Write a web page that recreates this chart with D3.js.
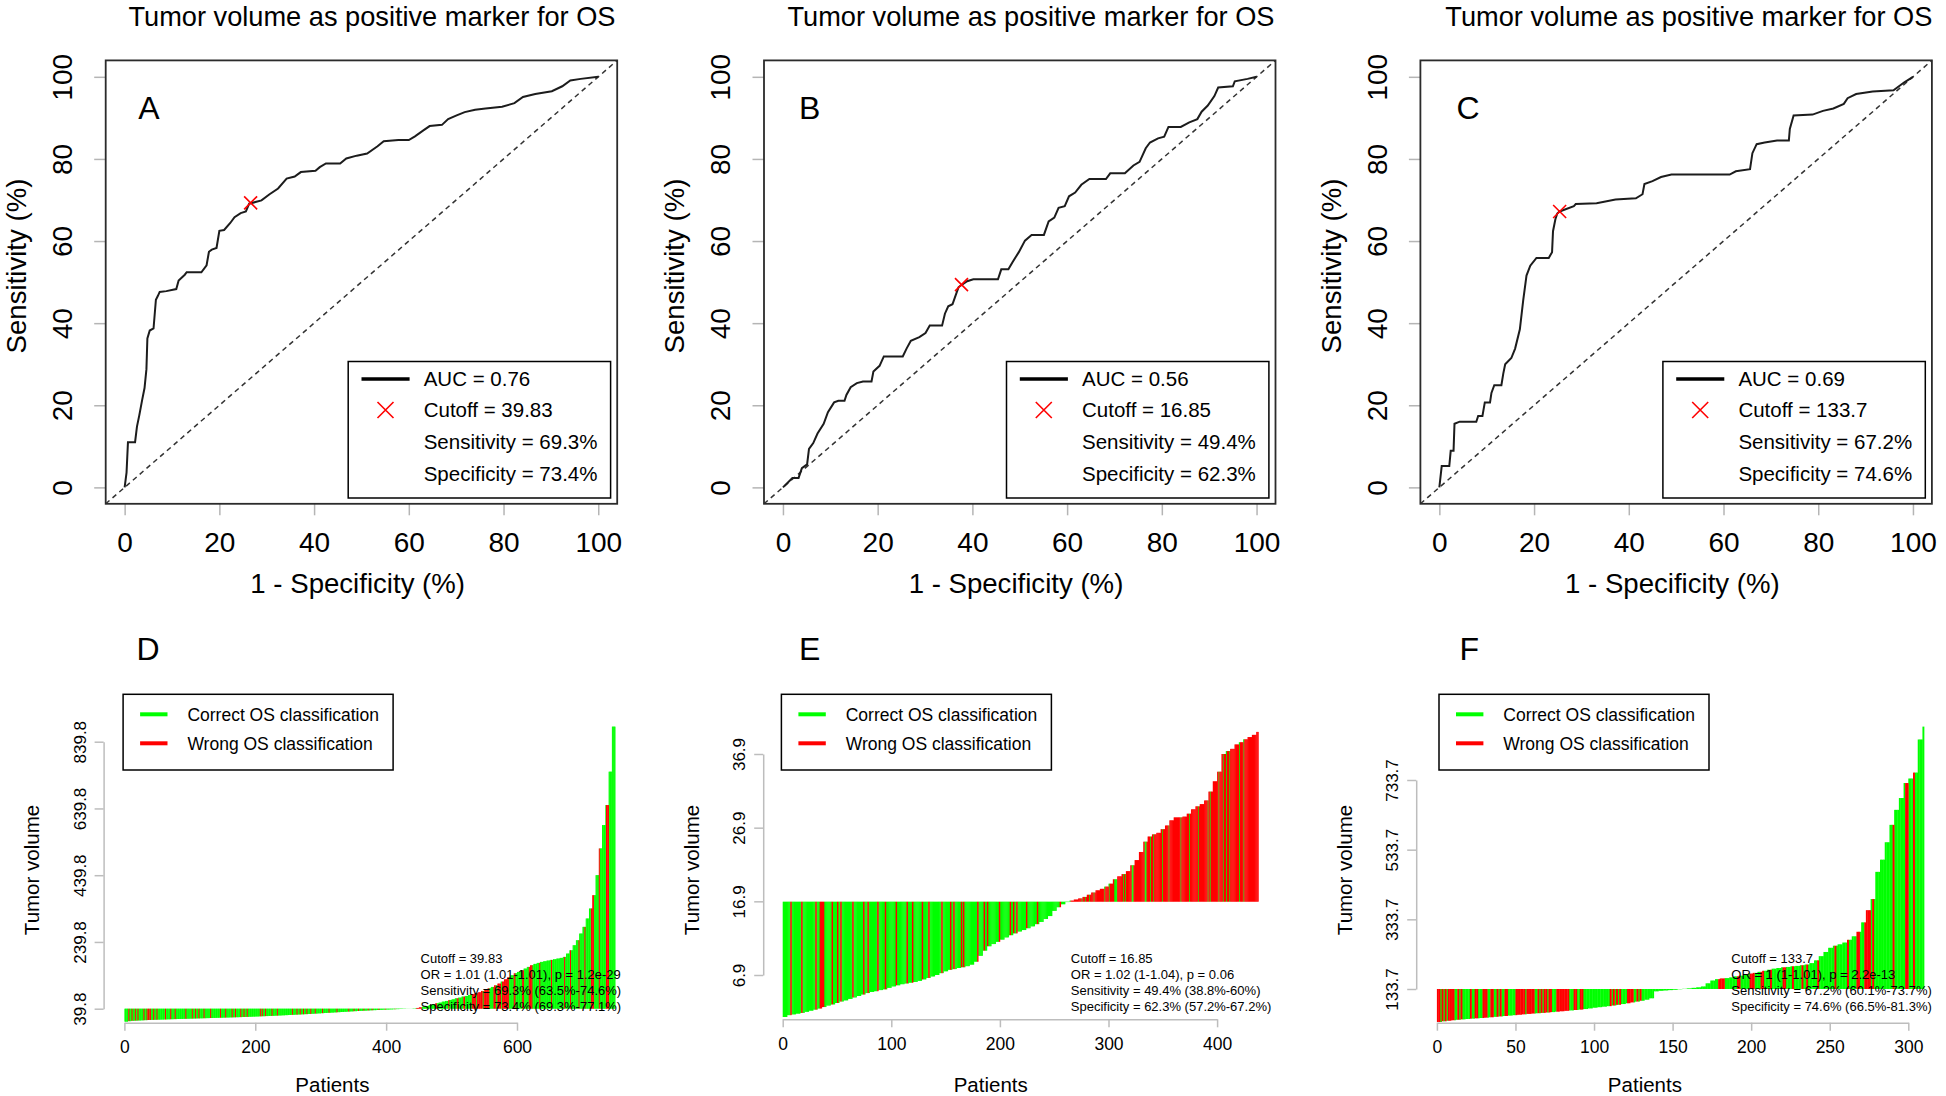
<!DOCTYPE html>
<html><head><meta charset="utf-8">
<script src="https://cdn.jsdelivr.net/npm/d3@7"></script>
<style>
body{margin:0;background:#fff;}
svg text{font-family:"Liberation Sans",Arial,Helvetica,sans-serif;fill:#000;}
</style>
</head><body>
<svg id="c" width="1946" height="1096"></svg>
<script>
// ---------------- DATA ----------------
const rocTitle = "Tumor volume as positive marker for OS";
const rocTicks = [0, 20, 40, 60, 80, 100];
const rocLetters = ["A", "B", "C"];
// [1 - specificity %, sensitivity %]
const rocA = [[0,0],[0.4,3.6],[0.7,11],[2.2,11],[2.6,14.8],[3.1,17.6],[3.7,21.3],[4.2,24.2],[4.6,28.8],[4.8,36.3],[5.3,38.2],[6.1,38.7],[6.6,45.7],[7.0,46.6],[7.4,47.6],[8.8,47.8],[10.9,48.3],[11.4,50.4],[12.7,51.8],[13.1,52.4],[16.2,52.4],[17.3,54.1],[17.8,57.4],[18.4,57.9],[19.4,58.3],[20.0,62.5],[21,62.7],[22.3,64.4],[23.2,65.8],[24.5,66.8],[25.6,67.2],[26.3,69.1],[28.9,69.9],[30.6,71.4],[32.4,72.8],[34.2,75.2],[35.9,75.7],[37.2,76.8],[40.3,77.1],[41.2,78],[42.5,78.9],[45.5,78.9],[46.8,80.1],[49,80.8],[51.2,81.3],[53.4,83.1],[54.7,84.3],[57.8,84.6],[60,84.6],[61.3,85.5],[63,86.9],[64.4,88],[67,88.3],[68.3,89.7],[70.1,90.6],[71.8,91.4],[74,92],[76.2,92.3],[79.7,92.7],[82.3,93.6],[84.1,95.1],[86.7,95.8],[90.2,96.5],[92.4,97.7],[94.1,99.1],[96.3,99.5],[100,100]];
const rocB = [[0,0],[2,2.3],[3.3,2.3],[4,4.7],[5.1,5.6],[5.5,9.4],[6.4,10.8],[7.3,13.1],[8.6,15.5],[9.5,18.3],[10.8,20.7],[11.7,21.1],[13,21.1],[13.4,22.5],[14.3,24.4],[15.6,25.4],[16.9,25.8],[18.7,25.8],[19.1,28.2],[20.4,29.6],[21.3,31.9],[25.3,31.9],[26.1,33.8],[27,35.7],[28.8,36.6],[30.1,37.6],[31,39.4],[33.6,39.4],[34.2,42.3],[34.9,44.1],[35.8,44.6],[36.5,46.9],[37.1,48.8],[38.9,50.2],[40.2,50.7],[45.4,50.7],[46.1,53.1],[47.6,53.1],[48.5,54.9],[49.8,57.3],[51.1,60.1],[52.5,61.5],[55.1,61.5],[56.1,64.8],[57.3,65.7],[58.2,68.1],[59.5,68.5],[60.4,70.9],[61.7,71.8],[63,73.7],[64.7,75.1],[68.2,75.1],[69.1,76.5],[72.2,76.5],[74,78.4],[75.3,79.3],[76.6,82.6],[77.5,84],[79.2,85],[80.5,85.4],[81.4,87.8],[84,87.8],[85.8,88.9],[87.5,89.7],[88.4,91.5],[89.7,93],[91.1,95.3],[91.9,97.4],[95,97.7],[95.4,98.9],[98.1,99.5],[100,100]];
const rocC = [[0,0],[0.5,5.2],[2.1,5.2],[2.4,8.9],[3,8.9],[3.2,15.5],[4.3,16],[7.8,16],[8.2,17.4],[9.1,17.4],[9.6,20.7],[10.7,20.7],[11,23],[11.6,24.9],[13.1,24.9],[13.5,27.7],[13.9,30],[15.2,31.5],[16,33.8],[17,38.5],[17.7,45.5],[18.4,51.6],[19.2,54],[20.5,55.9],[23.1,55.9],[23.8,57.3],[24,62.4],[24.5,65.3],[24.9,66.7],[25.4,67.2],[28.4,68.5],[28.8,69],[33.2,69.2],[37.2,70.1],[41.5,70.4],[42.9,71.4],[43.3,73.9],[45,74.6],[46.8,75.6],[49,76.2],[61.3,76.2],[62.6,77],[65.6,77.5],[66.1,81.4],[67,83.6],[68.7,84],[71.3,84.5],[73.8,84.5],[74,87.3],[74.8,90.6],[78.8,90.8],[81,91.7],[83.2,92.3],[85.4,93.4],[86.2,94.8],[88,95.8],[91.5,96.4],[95.9,96.7],[98.1,98.6],[100,100]];
const rocCutA = [26.6, 69.3], rocCutB = [37.7, 49.4], rocCutC = [25.4, 67.2];
const rocLegA = ["AUC = 0.76", "Cutoff = 39.83", "Sensitivity = 69.3%", "Specificity = 73.4%"];
const rocLegB = ["AUC = 0.56", "Cutoff = 16.85", "Sensitivity = 49.4%", "Specificity = 62.3%"];
const rocLegC = ["AUC = 0.69", "Cutoff = 133.7", "Sensitivity = 67.2%", "Specificity = 74.6%"];

const barLetters = ["D", "E", "F"];
const barLegend = ["Correct OS classification", "Wrong OS classification"];
// sorted tumor volumes, one value per block of patients
const dN = 750, dBlock = 5, dCutoff = 39.83;
const dVals = [1,2.5,3.5,4,4.5,5,5.5,6,6.3,6.6, 7,7.3,7.6,8,8.3,8.6,8.9,9.2,9.5,9.8, 10.1,10.4,10.7,11,11.3,11.6,11.9,12.2,12.5,12.8, 13.1,13.4,13.7,14,14.3,14.6,15,15.3,15.7,16.1, 16.5,16.9,17.3,17.7,18.1,18.5,19,19.5,20,20.5, 21,21.5,22,22.5,23,23.5,24,24.6,25.2,25.8, 26.4,27,27.6,28.2,28.8,29.4,30,30.6,31.2,31.8, 32.4,33,33.5,34,34.5,35,35.5,36,36.5,37, 37.4,37.8,38.2,38.6,39,39.3,39.6,40,40.5,42, 44,46,48,51,53,56,58,61,63,66, 68,71,73,76,78,81,84,86,89,93, 97,101,105,110,115,121,128,134,140,146, 150,155,160,165,170,174,177,180,182,184, 186,188,190,192,195,205,215,230,245,265, 285,310,340,380,440,520,590,650,750,885];
const dWrong = [[6,6],[11,11],[16,16],[20,20],[29,29],[34,34],[36,37],[39,39],[44,44],[49,49],[62,62],[70,70],[77,77],[93,93],[103,103],[108,108],[113,113],[121,121],[131,131],[146,146],[154,154],[164,164],[169,169],[177,177],[182,182],[187,187],[207,207],[210,210],[215,215],[225,225],[233,233],[256,256],[263,263],[268,268],[273,273],[278,278],[284,284],[291,291],[302,302],[312,312],[324,324],[342,342],[350,350],[357,357],[365,365],[372,372],[378,378],[388,388],[398,398],[413,413],[446,453],[475,476],[495,495],[508,509],[518,519],[531,536],[539,546],[549,556],[564,566],[570,574],[577,586],[595,596],[608,609],[618,622],[634,634],[652,652],[672,672],[681,681],[694,694],[703,703],[713,716],[725,725],[736,739]];
const dYTicks = [39.8, 239.8, 439.8, 639.8, 839.8];
const dXTicks = [0, 200, 400, 600];
const dStats = ["Cutoff = 39.83", "OR = 1.01 (1.01-1.01), p = 1.2e-29", "Sensitivity = 69.3% (63.5%-74.6%)", "Specificity = 73.4% (69.3%-77.1%)"];

const eN = 438, eBlock = 4, eCutoff = 16.85;
const eVals = [1.2,1.45,1.55,1.65,1.75,1.9,2.05,2.2,2.35,2.55, 2.75,2.9,3.1,3.3,3.45,3.65,3.85,4.05,4.25,4.45, 4.6,4.7,4.85,4.95,5.15,5.35,5.5,5.65,5.75,5.85, 5.95,6.1,6.3,6.5,6.7,6.9,7.15,7.4,7.6,7.7, 7.85,7.95,8.1,8.3,8.7,9.5,10.2,10.8,11.1,11.4, 11.7,12,12.3,12.55,12.8,13,13.25,13.5,13.8,14.1, 14.5,14.9,15.6,16.1,16.5,16.8,17,17.15,17.3,17.5, 17.8,18.1,18.4,18.6,18.9,19.3,19.9,20.3,20.6,21, 21.8,22.5,23.6,25,25.7,26,26.2,26.7,27.2,27.9, 28.3,28.3,28.4,28.8,29.4,29.8,30.1,30.6,31.8,33.2, 34.5,36.9,37.3,37.6,38.2,38.5,38.9,39.2,39.5,39.9];
const eWrong = [[7,7],[17,17],[30,30],[34,37],[45,45],[50,50],[53,53],[64,64],[74,74],[78,78],[87,87],[94,94],[104,104],[114,114],[119,119],[128,128],[134,134],[146,146],[154,154],[157,157],[164,164],[166,166],[179,179],[185,185],[188,188],[199,199],[209,209],[212,212],[215,215],[224,224],[234,234],[255,255],[265,274],[276,277],[279,281],[283,285],[287,295],[297,299],[301,304],[308,312],[314,314],[316,320],[323,332],[335,337],[339,340],[342,348],[350,354],[356,365],[367,373],[375,381],[383,390],[392,392],[394,400],[402,404],[406,407],[409,410],[412,419],[421,423],[425,437]];
const eYTicks = [6.9, 16.9, 26.9, 36.9];
const eXTicks = [0, 100, 200, 300, 400];
const eStats = ["Cutoff = 16.85", "OR = 1.02 (1-1.04), p = 0.06", "Sensitivity = 49.4% (38.8%-60%)", "Specificity = 62.3% (57.2%-67.2%)"];

const fN = 310, fBlock = 3, fCutoff = 133.7;
const fVals = [39,41,42.5,44,45.3,46.5,47.6,48.6,49.5,50.4, 51.4,52.6,53.8,55,56.2,57.4,58.6,59.8,61,62.2, 63.3,64.2,65.1,66.2,67.4,68.6,69.8,71,72.2,73.4, 74.6,76.2,78,80,81.5,83,84.5,86.3,88.3,90.5, 92.8,95.2,97.6,100,103,107,127,128.5,129.5,130.5, 131.5,133,134.2,135.5,137,138.5,141,150,158,162, 164,165,167,170,172,175,178,180,183,186, 189,192,194,196,197,199,200,202,204,208, 216,228,240,252,258,262,267,275,285,298, 325,360,392,470,505,555,605,648,682,725, 738,755,850,887];
const fWrong = [[0,1],[3,3],[5,5],[7,10],[13,13],[15,15],[21,21],[24,25],[29,31],[34,35],[38,38],[40,40],[43,44],[50,55],[57,61],[64,64],[66,66],[68,69],[71,72],[76,83],[87,88],[91,92],[110,110],[112,112],[114,114],[116,116],[121,124],[127,127],[129,129],[179,182],[191,192],[199,201],[206,207],[212,212],[220,221],[226,226],[232,232],[235,235],[242,242],[253,253],[261,261],[267,268],[272,275],[277,277],[290,290],[298,299],[303,303]];
const fYTicks = [133.7, 333.7, 533.7, 733.7];
const fXTicks = [0, 50, 100, 150, 200, 250, 300];
const fStats = ["Cutoff = 133.7", "OR = 1 (1-1.01), p = 2.2e-13", "Sensitivity = 67.2% (60.1%-73.7%)", "Specificity = 74.6% (66.5%-81.3%)"];

// ---------------- LAYOUT ----------------
const svg = d3.select("#c");
const GREEN = "#00ff00", RED = "#ff0000";
const topLayout = [
  {left: 105.7, letterX: 149, titleX: 372},
  {left: 764, letterX: 809.6, titleX: 1031},
  {left: 1420.4, letterX: 1468, titleX: 1688.8}
];
const BOX_W = 511.5, BOX_TOP = 60.4, BOX_BOT = 503.8;

function rotText(g, x, y, txt, size) {
  return g.append("text").attr("transform", `translate(${x},${y}) rotate(-90)`)
    .attr("text-anchor", "middle").attr("dy", "0.35em").attr("font-size", size).text(txt);
}

function drawROC(k, pts, cut, leg) {
  const L = topLayout[k];
  const x = d3.scaleLinear([-4, 104], [L.left, L.left + BOX_W]);
  const y = d3.scaleLinear([-4, 104], [BOX_BOT, BOX_TOP]);
  const g = svg.append("g");
  g.append("text").attr("x", L.titleX).attr("y", 16).attr("dy", "0.36em")
    .attr("text-anchor", "middle").attr("font-size", 27.2).text(rocTitle);

  const xa = g.append("g").attr("transform", `translate(0,${BOX_BOT})`)
    .call(d3.axisBottom(x).tickValues(rocTicks).tickSize(11.5).tickSizeOuter(0).tickPadding(17));
  xa.select(".domain").remove();
  xa.selectAll(".tick line").attr("stroke", "#b5b5b5").attr("stroke-width", 1.5);
  xa.selectAll(".tick text").attr("font-size", 28).attr("font-family", null);
  const ya = g.append("g").attr("transform", `translate(${L.left},0)`)
    .call(d3.axisLeft(y).tickValues(rocTicks).tickSize(11.5).tickSizeOuter(0));
  ya.select(".domain").remove();
  ya.selectAll(".tick line").attr("stroke", "#b5b5b5").attr("stroke-width", 1.5);
  ya.selectAll(".tick text").attr("x", null).attr("dy", "0.35em").attr("text-anchor", "middle")
    .attr("transform", "translate(-43.5,0) rotate(-90)").attr("font-size", 28).attr("font-family", null);

  g.append("text").attr("x", L.left + 252).attr("y", 582.7).attr("dy", "0.36em")
    .attr("text-anchor", "middle").attr("font-size", 27.6).text("1 - Specificity (%)");
  rotText(g, L.left - 89.5, 266, "Sensitivity (%)", 27.6);

  g.append("line").attr("x1", x(-4)).attr("y1", y(-4)).attr("x2", x(104)).attr("y2", y(104))
    .attr("stroke", "#333").attr("stroke-width", 1.5).attr("stroke-dasharray", "5,4");
  g.append("path").datum(pts).attr("fill", "none").attr("stroke", "#1c1c1c").attr("stroke-width", 2)
    .attr("d", d3.line().x(d => x(d[0])).y(d => y(d[1])));
  const cx = x(cut[0]), cy = y(cut[1]), s = 6.5;
  g.append("path").attr("d", `M${cx-s},${cy-s}L${cx+s},${cy+s}M${cx-s},${cy+s}L${cx+s},${cy-s}`)
    .attr("stroke", RED).attr("stroke-width", 1.6);
  g.append("rect").attr("x", L.left).attr("y", BOX_TOP).attr("width", BOX_W).attr("height", BOX_BOT - BOX_TOP)
    .attr("fill", "none").attr("stroke", "#2b2b2b").attr("stroke-width", 1.8);
  g.append("text").attr("x", L.letterX).attr("y", 107.7).attr("dy", "0.36em")
    .attr("text-anchor", "middle").attr("font-size", 32).text(rocLetters[k]);

  // legend
  const lx = L.left + 242.5;
  g.append("rect").attr("x", lx).attr("y", 361.5).attr("width", 262.4).attr("height", 136.5)
    .attr("fill", "#fff").attr("stroke", "#000").attr("stroke-width", 1.5);
  const rows = [379, 410, 442, 473.5];
  g.append("line").attr("x1", lx + 13.3).attr("x2", lx + 61.4).attr("y1", rows[0]).attr("y2", rows[0])
    .attr("stroke", "#000").attr("stroke-width", 3.5);
  const mx = lx + 37.3, my = rows[1], m = 8;
  g.append("path").attr("d", `M${mx-m},${my-m}L${mx+m},${my+m}M${mx-m},${my+m}L${mx+m},${my-m}`)
    .attr("stroke", RED).attr("stroke-width", 1.6);
  leg.forEach((t, i) => g.append("text").attr("x", lx + 75.5).attr("y", rows[i]).attr("dy", "0.36em")
    .attr("font-size", 20.5).text(t));
}

drawROC(0, rocA, rocCutA, rocLegA);
drawROC(1, rocB, rocCutB, rocLegB);
drawROC(2, rocC, rocCutC, rocLegC);

const botLayout = [
  {axisX: 103.6, xPx: [124.4, 517], yPx: [1008.7, 741.7], axisY: 1022.7, letterX: 148, legendX: 123.1, statsX: 420.6},
  {axisX: 763.2, xPx: [782.7, 1217.1], yPx: [975, 754], axisY: 1019.3, letterX: 809.6, legendX: 781.4, statsX: 1070.8},
  {axisX: 1416.2, xPx: [1436.9, 1908.3], yPx: [989, 780], axisY: 1022.7, letterX: 1469.3, legendX: 1439, statsX: 1731.3}
];

function drawBars(k, n, block, vals, cutoff, wrong, yTicks, xTicks, stats) {
  const L = botLayout[k];
  const x = d3.scaleLinear([xTicks[0], xTicks[xTicks.length - 1]], L.xPx);
  const y = d3.scaleLinear([yTicks[0], yTicks[yTicks.length - 1]], L.yPx);
  const g = svg.append("g");
  const isWrong = i => wrong.some(r => i >= r[0] && i <= r[1]);
  const pats = d3.range(n).map(i => ({i, v: vals[Math.floor(i / block)], w: isWrong(i)}));
  const y0 = y(cutoff);
  const bar = sel => sel.attr("x", d => x(d.i)).attr("width", d => x(d.i + 1) - x(d.i) + 0.35)
    .attr("y", d => Math.min(y0, y(d.v))).attr("height", d => Math.max(0.01, Math.abs(y(d.v) - y0)));
  g.append("g").selectAll("rect").data(pats.filter(d => !d.w)).join("rect").attr("fill", GREEN).call(bar);
  g.append("g").selectAll("rect").data(pats.filter(d => d.w)).join("rect").attr("fill", RED).call(bar);

  const ya = g.append("g").attr("transform", `translate(${L.axisX},0)`)
    .call(d3.axisLeft(y).tickValues(yTicks).tickSize(9).tickSizeOuter(0).tickFormat(d3.format(".1f")));
  ya.select(".domain").attr("stroke", "#bdbdbd").attr("stroke-width", 1.5);
  ya.selectAll(".tick line").attr("stroke", "#bdbdbd").attr("stroke-width", 1.5);
  ya.selectAll(".tick text").attr("x", null).attr("dy", "0.35em").attr("text-anchor", "middle")
    .attr("transform", "translate(-24,0) rotate(-90)").attr("font-size", 17).attr("font-family", null);
  const xa = g.append("g").attr("transform", `translate(0,${L.axisY})`)
    .call(d3.axisBottom(x).tickValues(xTicks).tickSize(8).tickSizeOuter(0).tickPadding(10));
  xa.select(".domain").attr("stroke", "#bdbdbd").attr("stroke-width", 1.5);
  xa.selectAll(".tick line").attr("stroke", "#bdbdbd").attr("stroke-width", 1.5);
  xa.selectAll(".tick text").attr("font-size", 17.5).attr("font-family", null);

  g.append("text").attr("x", x(0) + 208).attr("y", 1085).attr("dy", "0.36em")
    .attr("text-anchor", "middle").attr("font-size", 20.5).text("Patients");
  rotText(g, L.axisX - 71.3, 870, "Tumor volume", 20.5);
  g.append("text").attr("x", L.letterX).attr("y", 648).attr("dy", "0.36em")
    .attr("text-anchor", "middle").attr("font-size", 32).text(barLetters[k]);

  const sRows = [958, 974, 990, 1006];
  stats.forEach((t, i) => g.append("text").attr("x", L.statsX).attr("y", sRows[i]).attr("dy", "0.36em")
    .attr("font-size", 13).attr("fill", "#1a1a1a").text(t));

  const lx = L.legendX;
  g.append("rect").attr("x", lx).attr("y", 694.3).attr("width", 270).attr("height", 75.7)
    .attr("fill", "#fff").attr("stroke", "#000").attr("stroke-width", 1.5);
  const rows = [714.3, 743.3];
  [GREEN, RED].forEach((c, i) => {
    g.append("line").attr("x1", lx + 17).attr("x2", lx + 44.4).attr("y1", rows[i]).attr("y2", rows[i])
      .attr("stroke", c).attr("stroke-width", 4);
    g.append("text").attr("x", lx + 64.3).attr("y", rows[i]).attr("dy", "0.36em")
      .attr("font-size", 17.5).text(barLegend[i]);
  });
}

drawBars(0, dN, dBlock, dVals, dCutoff, dWrong, dYTicks, dXTicks, dStats);
drawBars(1, eN, eBlock, eVals, eCutoff, eWrong, eYTicks, eXTicks, eStats);
drawBars(2, fN, fBlock, fVals, fCutoff, fWrong, fYTicks, fXTicks, fStats);
</script>
</body></html>
